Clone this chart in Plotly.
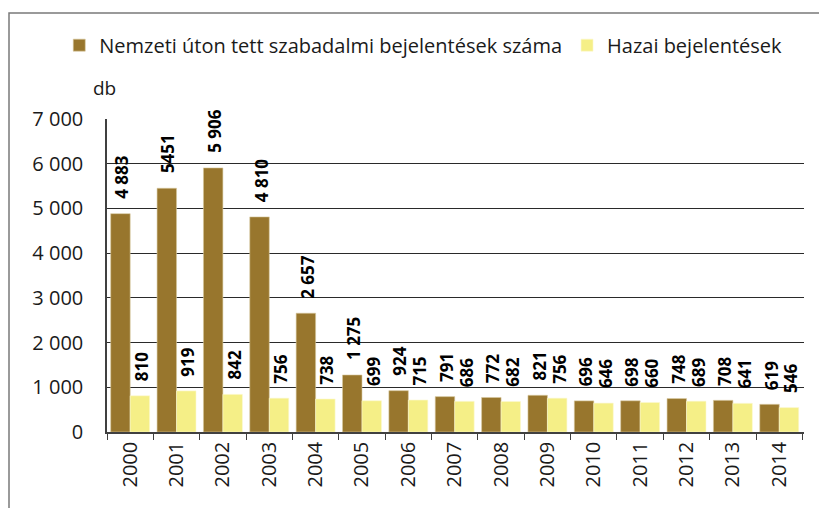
import plotly.graph_objects as go

years = [str(y) for y in range(2000, 2015)]
national = [4883, 5451, 5906, 4810, 2657, 1275, 924, 791, 772, 821, 696, 698, 748, 708, 619]
domestic = [810, 919, 842, 756, 738, 699, 715, 686, 682, 756, 646, 660, 689, 641, 546]
national_labels = ["4 883", "5451", "5 906", "4 810", "2 657", "1 275", "924", "791",
                   "772", "821", "696", "698", "748", "708", "619"]
domestic_labels = [str(v) for v in domestic]

FONT = "Open Sans"
BROWN = "#98762D"
YELLOW = "#F5EF87"
BARGAP = 0.16
LEFT, RIGHT, TOP, BOTTOM = 107, 15, 119, 76
W, H = 819, 508
LABEL_SIZE = 17
Y_MAX, Y_STEP = 7000, 1000


def label_length(s):
    # approximate rendered length of a bold label, in px
    return sum(0.27 * LABEL_SIZE if ch == " " else 0.63 * LABEL_SIZE for ch in s)


fig = go.Figure()
fig.add_trace(go.Bar(
    x=years, y=national, name="Nemzeti úton tett szabadalmi bejelentések száma",
    marker=dict(color=BROWN, line=dict(color="#D8C9A0", width=0.6)),
))
fig.add_trace(go.Bar(
    x=years, y=domestic, name="Hazai bejelentések",
    marker=dict(color=YELLOW, line=dict(color="#FBF8D0", width=0.6)),
))

# rotated value labels sitting just above each bar (x given as category index)
cat_px = (W - LEFT - RIGHT) / len(years)
half_bar = cat_px * (1 - BARGAP) / 4
for series, labels, sign in ((national, national_labels, -1), (domestic, domestic_labels, 1)):
    for i, (v, lab) in enumerate(zip(series, labels)):
        fig.add_annotation(x=i, y=v, text=lab, textangle=-90, showarrow=False,
                           xanchor="center", yanchor="middle",
                           xshift=sign * half_bar + 1.5,
                           yshift=13 + label_length(lab) / 2,
                           font=dict(family=FONT, size=LABEL_SIZE, color="#000000",
                                     weight="bold"))

fig.update_layout(
    width=W, height=H,
    margin=dict(l=LEFT, r=RIGHT, t=TOP, b=BOTTOM),
    paper_bgcolor="white", plot_bgcolor="white",
    barmode="group", bargap=BARGAP, bargroupgap=0,
    separators=", ",
    font=dict(family=FONT, size=20, color="#1a1a1a"),
    legend=dict(orientation="h", x=-0.0685, y=1.236, xanchor="left", yanchor="middle",
                font=dict(family=FONT, size=20, color="#1a1a1a"),
                itemwidth=30, traceorder="normal", bgcolor="rgba(0,0,0,0)"),
    xaxis=dict(type="category", tickangle=-90, ticks="outside", tickson="boundaries",
               ticklen=6, tickcolor="#404040", showline=True, linecolor="#404040",
               linewidth=1.5, tickfont=dict(family=FONT, size=20, color="#1a1a1a")),
    # labelled value axis; its long white ticks push the labels away from the axis line
    yaxis=dict(range=[0, Y_MAX], dtick=Y_STEP, tickformat=",d", ticks="outside",
               ticklen=18, tickcolor="white", showline=True, linecolor="#404040",
               linewidth=1.5, showgrid=True, gridcolor="#2a2a2a", gridwidth=1,
               zeroline=False, tickfont=dict(family=FONT, size=20, color="#1a1a1a")),
    # short dark tick marks drawn over the same scale
    yaxis2=dict(range=[0, Y_MAX], dtick=Y_STEP, overlaying="y", side="left",
                ticks="outside", ticklen=7, tickcolor="#404040", tickwidth=1.5,
                showticklabels=False, showgrid=False, showline=False, zeroline=False),
    showlegend=True,
)

fig.add_annotation(text="db", xref="paper", yref="paper", x=-0.0043, y=1.099,
                   xanchor="center", yanchor="middle", showarrow=False,
                   font=dict(family=FONT, size=19, color="#1a1a1a"))

# outer chart frame
fig.add_shape(type="rect", xref="paper", yref="paper", x0=-0.1406, y0=-1, x1=2, y1=1.3387,
              line=dict(color="#7a7a7a", width=1.5), layer="below")

fig.write_html("out.html")
